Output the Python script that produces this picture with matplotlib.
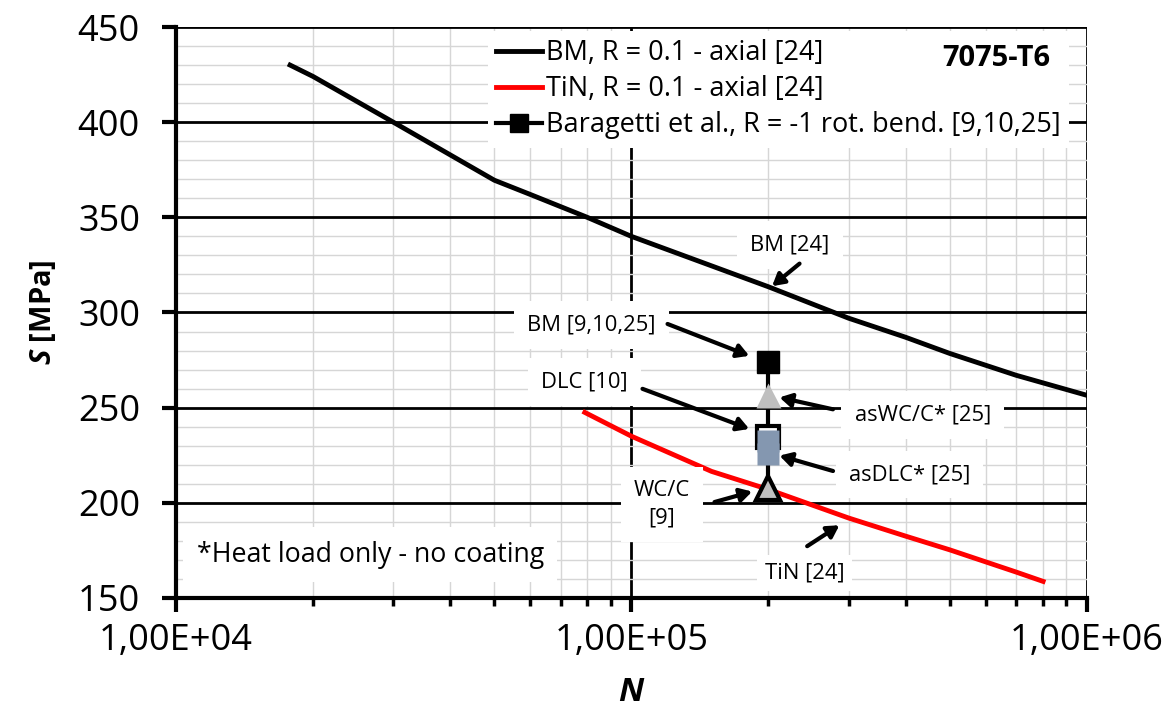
import numpy as np
import matplotlib
matplotlib.use("Agg")
import matplotlib.pyplot as plt
from matplotlib.ticker import FuncFormatter, MultipleLocator, NullFormatter

plt.rcParams['font.family'] = ['Open Sans', 'DejaVu Sans']
plt.rcParams['mathtext.fontset'] = 'custom'
plt.rcParams['mathtext.it'] = 'Open Sans:italic:bold'

# data
bm_N = [17800, 20000, 30000, 50000, 60000, 80000, 100000, 200000, 300000,
        400000, 500000, 700000, 1000000]
bm_S = [430, 424, 400, 369.5, 362, 350, 340, 313.5, 297, 287, 278.5, 267, 256.5]
tin_N = [79000, 100000, 150000, 200000, 300000, 400000, 500000, 700000, 802000]
tin_S = [247.5, 235, 216.5, 207, 192, 182.5, 175.3, 163.6, 158.7]
bar_N = 200000
bm_bar = 274        # BM [9,10,25]
aswc_bar = 256.7    # asWC/C* [25]
dlc_bar = 234.4     # DLC [10]
asdlc_bar = [232.5, 225.5]  # asDLC* [25]
wcc_bar = 208       # WC/C [9]

fig = plt.figure(figsize=(11.66, 7.11), dpi=100)
ax = fig.add_axes([0.151, 0.159, 0.781, 0.803])

ax.set_xscale('log')
ax.set_xlim(1e4, 1e6)
ax.set_ylim(150, 450)

# grid
ax.yaxis.set_major_locator(MultipleLocator(50))
ax.yaxis.set_minor_locator(MultipleLocator(10))
ax.grid(True, which='minor', color='#d6d6d6', lw=1.0, zorder=0)
ax.grid(True, which='major', color='black', lw=2.0, zorder=0.5)
ax.set_axisbelow(True)

ax.xaxis.set_major_formatter(FuncFormatter(lambda v, p: "1,00E+%02d" % int(round(np.log10(v)))))
ax.xaxis.set_minor_formatter(NullFormatter())

for s in ['top', 'right']:
    ax.spines[s].set_visible(False)
for s in ['left', 'bottom']:
    ax.spines[s].set_linewidth(3)

ax.tick_params(axis='both', which='major', direction='out', length=10, width=3,
               labelsize=26)
ax.tick_params(axis='y', which='major', pad=16)
ax.tick_params(axis='x', which='major', pad=8)
ax.tick_params(axis='x', which='minor', direction='out', length=6, width=2.5)
ax.tick_params(axis='y', which='minor', length=0)

# curves
ax.plot(bm_N, bm_S, color='black', lw=3.5, label='BM, R = 0.1 - axial [24]', zorder=3)
ax.plot(tin_N, tin_S, color='#ff0000', lw=3.5, label='TiN, R = 0.1 - axial [24]', zorder=3)
ax.plot([bar_N, bar_N], [bm_bar, wcc_bar], color='black', lw=3, zorder=4)
# legend handle for Baragetti series
ax.plot([], [], color='black', lw=3, marker='s', ms=13,
        label='Baragetti et al., R = -1 rot. bend. [9,10,25]')

# markers
ax.plot(bar_N, bm_bar, 's', color='black', ms=16, zorder=6)
ax.plot(bar_N, aswc_bar, '^', color='#bfbfbf', mec='none', ms=18, zorder=6)
ax.plot(bar_N, dlc_bar, 's', mfc='white', mec='black', mew=3, ms=16, zorder=6)
ax.plot([bar_N] * len(asdlc_bar), asdlc_bar, 's', color='#8497b0', mec='none',
        ms=16, zorder=7)
ax.plot(bar_N, wcc_bar, '^', mfc='#bfbfbf', mec='black', mew=3, ms=17, zorder=6)

leg = ax.legend(loc='upper right', fontsize=19.5, frameon=True, framealpha=1,
                edgecolor='none', fancybox=False, handlelength=1.7,
                handletextpad=0.15, borderpad=0.3, labelspacing=0.3,
                borderaxespad=0.15, bbox_to_anchor=(0.985, 1.0))
leg.set_zorder(5)

ax.text(634000, 433.7, '7075-T6', fontsize=21, fontweight='bold',
        ha='center', va='center', zorder=8)

# annotations (text, text pos, arrow tail, arrow head, box pad)
arrowp = dict(arrowstyle='-|>,head_length=0.7,head_width=0.4', color='black', lw=3)
notes = [
    ("BM [24]", (222900, 335.5), (236600, 326.6), (201500, 312.9), 0.6),
    ("BM [9,10,25]", (81800, 293.5), (118500, 294.5), (183900, 276.7), 0.6),
    ("DLC [10]", (79000, 263.5), (104400, 260.4), (183900, 238.3), 0.6),
    ("asWC/C* [25]", (436500, 246.2), (281000, 248.8), (208600, 255.7), 0.6),
    ("asDLC* [25]", (408000, 214.7), (281000, 216.3), (208600, 225.2), 0.6),
    ("WC/C\n[9]", (116700, 199.0), (150200, 200.0), (186700, 206.3), 0.6),
    ("TiN [24]", (240400, 163.2), (240400, 176.4), (289700, 189.0), 0.35),
]
for txt, tpos, tail, head, pad in notes:
    ax.text(tpos[0], tpos[1], txt, fontsize=15.8, ha='center', va='center',
            bbox=dict(boxstyle='square,pad=%s' % pad, fc='white', ec='none'),
            zorder=4.5, linespacing=1.4)
    ax.annotate('', xy=head, xytext=tail, arrowprops=arrowp, zorder=5)

ax.text(11100, 172.7, '*Heat load only - no coating', fontsize=19.3,
        ha='left', va='center', zorder=4.5,
        bbox=dict(boxstyle='square,pad=0.5', fc='white', ec='none'))

ax.set_xlabel(r'$\mathit{N}$', fontsize=24, labelpad=12)
ax.set_ylabel(r'$\mathit{S}$ [MPa]', fontsize=21, fontweight='bold', labelpad=14)

fig.savefig('out.png', dpi=100)
